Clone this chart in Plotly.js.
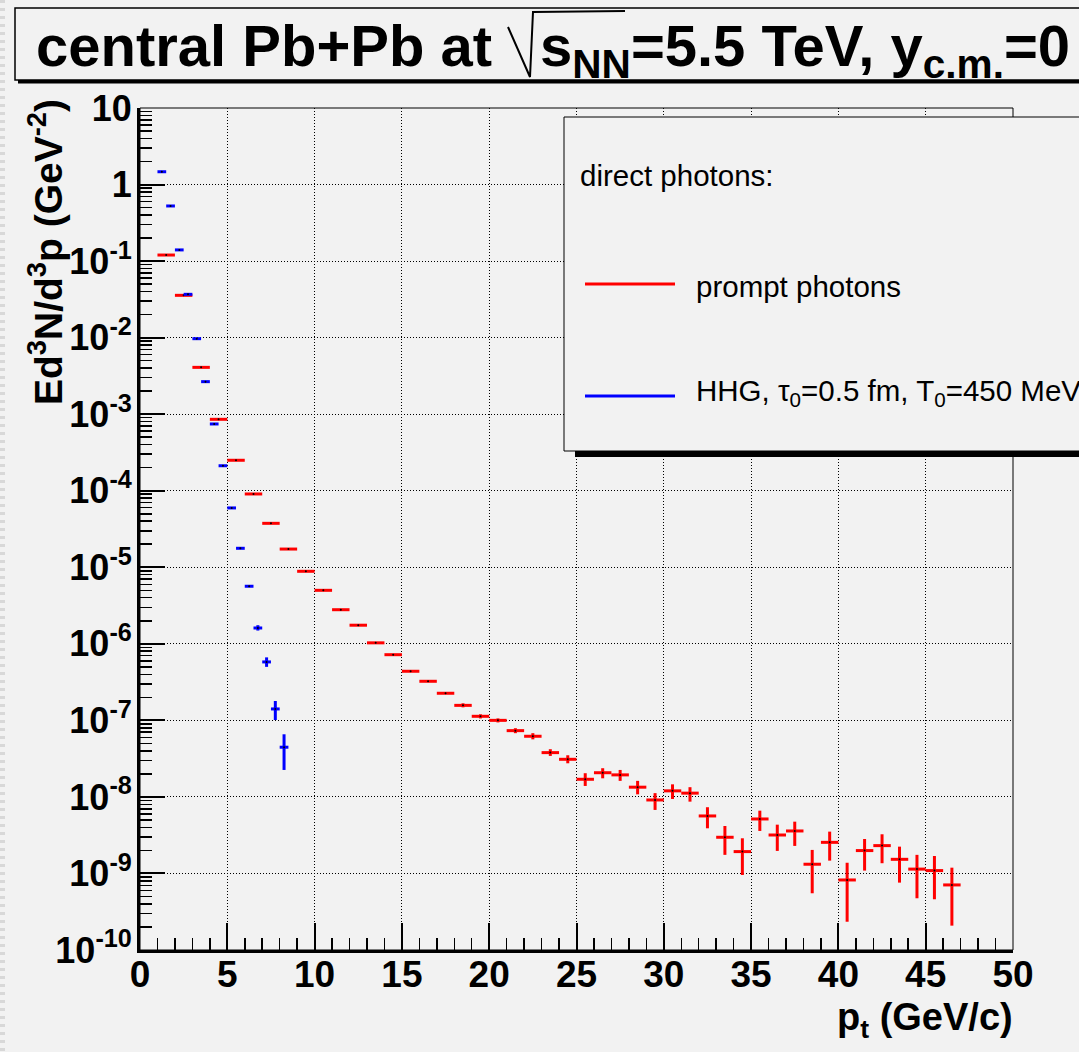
<!DOCTYPE html>
<html>
<head>
<meta charset="utf-8">
<script src="https://cdn.plot.ly/plotly-3.0.1.min.js"></script>
<style>html,body{margin:0;padding:0;background:#f2f2f2;}#chart{width:1079px;height:1052px;}</style>
</head>
<body>
<div id="chart"></div>
<script>
// ---------------- data ----------------
// prompt photons: bin centres (GeV/c), value, upper and lower error bounds
var promptPt = [1.5,2.5,3.5,4.5,5.5,6.5,7.5,8.5,9.5,10.5,11.5,12.5,13.5,14.5,15.5,16.5,17.5,18.5,19.5,20.5,21.5,22.5,23.5,24.5,25.5,26.5,27.5,28.5,29.5,30.5,31.5,32.5,33.5,34.5,35.5,36.5,37.5,38.5,39.5,40.5,41.5,42.5,43.5,44.5,45.5,46.5];
var promptY = [0.120,0.0357,0.00409,8.57e-4,2.50e-4,9.07e-5,3.75e-5,1.73e-5,8.86e-6,5.0e-6,2.79e-6,1.75e-6,1.03e-6,7.21e-7,4.38e-7,3.24e-7,2.26e-7,1.57e-7,1.13e-7,1.0e-7,7.34e-8,6.2e-8,3.79e-8,3.1e-8,1.70e-8,2.07e-8,1.94e-8,1.34e-8,9.12e-9,1.20e-8,1.12e-8,5.64e-9,2.97e-9,1.93e-9,5.15e-9,3.18e-9,3.59e-9,1.32e-9,2.55e-9,8.22e-10,1.99e-9,2.31e-9,1.53e-9,1.14e-9,1.09e-9,7.08e-10];
var promptHi = [0.120,0.0357,0.00409,8.57e-4,2.50e-4,9.07e-5,3.75e-5,1.73e-5,8.86e-6,5.0e-6,2.79e-6,1.75e-6,1.03e-6,7.21e-7,4.45e-7,3.30e-7,2.31e-7,1.67e-7,1.20e-7,1.06e-7,7.9e-8,6.8e-8,4.2e-8,3.5e-8,2.04e-8,2.37e-8,2.25e-8,1.62e-8,1.12e-8,1.46e-8,1.34e-8,7.33e-9,4.17e-9,2.88e-9,6.61e-9,4.34e-9,4.75e-9,2.03e-9,3.52e-9,1.38e-9,2.82e-9,3.25e-9,2.24e-9,1.75e-9,1.69e-9,1.19e-9];
var promptLo = [0.120,0.0357,0.00409,8.57e-4,2.50e-4,9.07e-5,3.75e-5,1.73e-5,8.86e-6,5.0e-6,2.79e-6,1.75e-6,1.03e-6,7.21e-7,4.31e-7,3.18e-7,2.21e-7,1.48e-7,1.06e-7,0.94e-7,6.8e-8,5.65e-8,3.43e-8,2.75e-8,1.39e-8,1.75e-8,1.62e-8,1.08e-8,6.76e-9,9.4e-9,8.67e-9,3.89e-9,1.75e-9,9.55e-10,3.59e-9,1.97e-9,2.29e-9,5.51e-10,1.47e-9,2.34e-10,1.09e-9,1.36e-9,7.59e-10,4.74e-10,4.60e-10,2.08e-10];
var promptBinWidth = 1.0;

// HHG thermal photons
var hhgPt = [1.25,1.75,2.25,2.75,3.25,3.75,4.25,4.75,5.25,5.75,6.25,6.75,7.25,7.75,8.25];
var hhgY  = [1.47,0.525,0.14,0.0368,0.00969,0.00266,7.45e-4,2.12e-4,5.96e-5,1.77e-5,5.65e-6,1.61e-6,5.8e-7,1.41e-7,4.46e-8];
var hhgHi = [1.47,0.525,0.14,0.0368,0.00969,0.00266,7.45e-4,2.12e-4,5.96e-5,1.77e-5,5.65e-6,1.75e-6,6.65e-7,1.79e-7,6.58e-8];
var hhgLo = [1.47,0.525,0.14,0.0368,0.00969,0.00266,7.45e-4,2.12e-4,5.96e-5,1.77e-5,5.65e-6,1.49e-6,5.0e-7,1.01e-7,2.25e-8];
var hhgBinWidth = 0.5;

// axis ticks
var xTickVals = [0,5,10,15,20,25,30,35,40,45,50];
var yTickVals = [1e-10,1e-9,1e-8,1e-7,1e-6,1e-5,1e-4,1e-3,1e-2,1e-1,1,10];
var yTickText = ['10<sup>-10</sup>','10<sup>-9</sup>','10<sup>-8</sup>','10<sup>-7</sup>','10<sup>-6</sup>','10<sup>-5</sup>','10<sup>-4</sup>','10<sup>-3</sup>','10<sup>-2</sup>','10<sup>-1</sup>','1','10'];

// ---------------- helpers ----------------
function diff(a,b){return a.map(function(v,i){return v-b[i];});}
function fill(n,v){var r=[];for(var i=0;i<n;i++)r.push(v);return r;}
var minorY=[];
for(var e=-10;e<1;e++){for(var k=2;k<=9;k++){minorY.push(k*Math.pow(10,e));}}

// pixel -> paper helpers for decorations (plot area 140..1013 x 108..950)
function px(x){return (x-140)/873;}
function py(y){return (950-y)/842;}

var FONT='Liberation Sans, Arial, Helvetica, sans-serif';
var BG='#f2f2f2';

function histTrace(x,y,hi,lo,bw,color,name){
  return {
    type:'scatter', mode:'markers', name:name, x:x, y:y,
    marker:{size:2,color:'black'},
    error_x:{type:'data',array:fill(x.length,bw/2),symmetric:true,width:0,thickness:3,color:color},
    error_y:{type:'data',symmetric:false,array:diff(hi,y),arrayminus:diff(y,lo),width:0,thickness:3,color:color},
    showlegend:false, hoverinfo:'x+y'
  };
}

var traces=[
  histTrace(promptPt,promptY,promptHi,promptLo,promptBinWidth,'#ff0000','prompt photons'),
  histTrace(hhgPt,hhgY,hhgHi,hhgLo,hhgBinWidth,'#0000ff','HHG')
];

var shapes=[
  // left border artifact
  {type:'line',xref:'paper',yref:'paper',x0:px(2.5),x1:px(2.5),y0:py(0),y1:py(1052),line:{color:'#d8d8d8',width:5,dash:'3px,5px'}},
  // frame
  {type:'rect',xref:'paper',yref:'paper',x0:0,x1:1,y0:0,y1:1,line:{color:'black',width:1},layer:'above'},
  // title box shadow + box
  {type:'rect',xref:'paper',yref:'paper',x0:px(18),x1:px(1095),y0:py(83.5),y1:py(78),fillcolor:'black',line:{width:0}},
  {type:'rect',xref:'paper',yref:'paper',x0:px(15),x1:px(1095),y0:py(80),y1:py(8),fillcolor:BG,line:{color:'black',width:1.5}},
  // radical sign
  {type:'path',xref:'paper',yref:'paper',path:'M '+px(508)+','+py(27)+' L '+px(530)+','+py(77)+' L '+px(533)+','+py(12)+' L '+px(625)+','+py(11),line:{color:'black',width:2}},
  // legend shadow + box
  {type:'rect',xref:'paper',yref:'paper',x0:px(575),x1:px(1095),y0:py(457),y1:py(449),fillcolor:'black',line:{width:0},layer:'above'},
  {type:'rect',xref:'paper',yref:'paper',x0:px(564),x1:px(1095),y0:py(451),y1:py(117),fillcolor:BG,line:{color:'black',width:1},layer:'above'},
  {type:'line',xref:'paper',yref:'paper',x0:px(585),x1:px(675),y0:py(284),y1:py(284),line:{color:'#ff0000',width:3},layer:'above'},
  {type:'line',xref:'paper',yref:'paper',x0:px(585),x1:px(675),y0:py(396),y1:py(396),line:{color:'#0000ff',width:3},layer:'above'}
];

var annotations=[
  {xref:'paper',yref:'paper',x:px(34),y:py(11),xanchor:'left',yanchor:'top',showarrow:false,
   text:'central Pb+Pb at',font:{family:FONT,size:58,color:'black',weight:'bold'}},
  {xref:'paper',yref:'paper',x:px(538),y:py(11),xanchor:'left',yanchor:'top',showarrow:false,
   text:'s<sub>NN</sub>=5.5 TeV, y<sub>c.m.</sub>=0',font:{family:FONT,size:58,color:'black',weight:'bold'}},
  {xref:'paper',yref:'paper',x:px(45),y:py(97),xanchor:'center',yanchor:'top',showarrow:false,textangle:-90,
   text:'Ed<sup>3</sup>N/d<sup>3</sup>p (GeV<sup>-2</sup>)',font:{family:FONT,size:39,color:'black',weight:'bold'}},
  {xref:'paper',yref:'paper',x:px(1015),y:py(1020),xanchor:'right',yanchor:'middle',showarrow:false,
   text:'p<sub>t</sub> (GeV/c)',font:{family:FONT,size:38,color:'black',weight:'bold'}},
  {xref:'paper',yref:'paper',x:px(578),y:py(175),xanchor:'left',yanchor:'middle',showarrow:false,
   text:'direct photons:',font:{family:FONT,size:29.5,color:'black'}},
  {xref:'paper',yref:'paper',x:px(694),y:py(286),xanchor:'left',yanchor:'middle',showarrow:false,
   text:'prompt photons',font:{family:FONT,size:29.5,color:'black'}},
  {xref:'paper',yref:'paper',x:px(694),y:py(392),xanchor:'left',yanchor:'middle',showarrow:false,
   text:'HHG, \u03c4<sub>0</sub>=0.5 fm, T<sub>0</sub>=450 MeV',font:{family:FONT,size:29.5,color:'black'}}
];

var layout={
  width:1079,height:1052,
  margin:{l:140,r:66,t:108,b:102,pad:0},
  paper_bgcolor:BG,plot_bgcolor:BG,
  showlegend:false,
  xaxis:{
    range:[0,50],tickmode:'array',tickvals:xTickVals,
    ticks:'inside',ticklen:27,tickwidth:2,tickcolor:'black',
    minor:{dtick:1,ticks:'inside',ticklen:12,tickwidth:1.5,tickcolor:'black',showgrid:false},
    showline:true,linecolor:'black',linewidth:3,mirror:false,
    showgrid:true,gridcolor:'black',gridwidth:1,griddash:'1px,2px',
    zeroline:false,
    tickfont:{family:FONT,size:37,color:'black',weight:'bold'},ticklabelstandoff:-10
  },
  yaxis:{
    type:'log',range:[-10,1],tickmode:'array',tickvals:yTickVals,ticktext:yTickText,
    ticks:'inside',ticklen:25,tickwidth:2,tickcolor:'black',
    minor:{tickmode:'array',tickvals:minorY,ticks:'inside',ticklen:12,tickwidth:1.5,tickcolor:'black',showgrid:false},
    showline:true,linecolor:'black',linewidth:3,mirror:false,
    showgrid:true,gridcolor:'black',gridwidth:1,griddash:'1px,2px',
    zeroline:false,
    tickfont:{family:FONT,size:36,color:'black',weight:'bold'},ticklabelstandoff:-2
  },
  shapes:shapes,
  annotations:annotations
};

Plotly.newPlot('chart',traces,layout,{staticPlot:true,displayModeBar:false});
</script>
</body>
</html>
